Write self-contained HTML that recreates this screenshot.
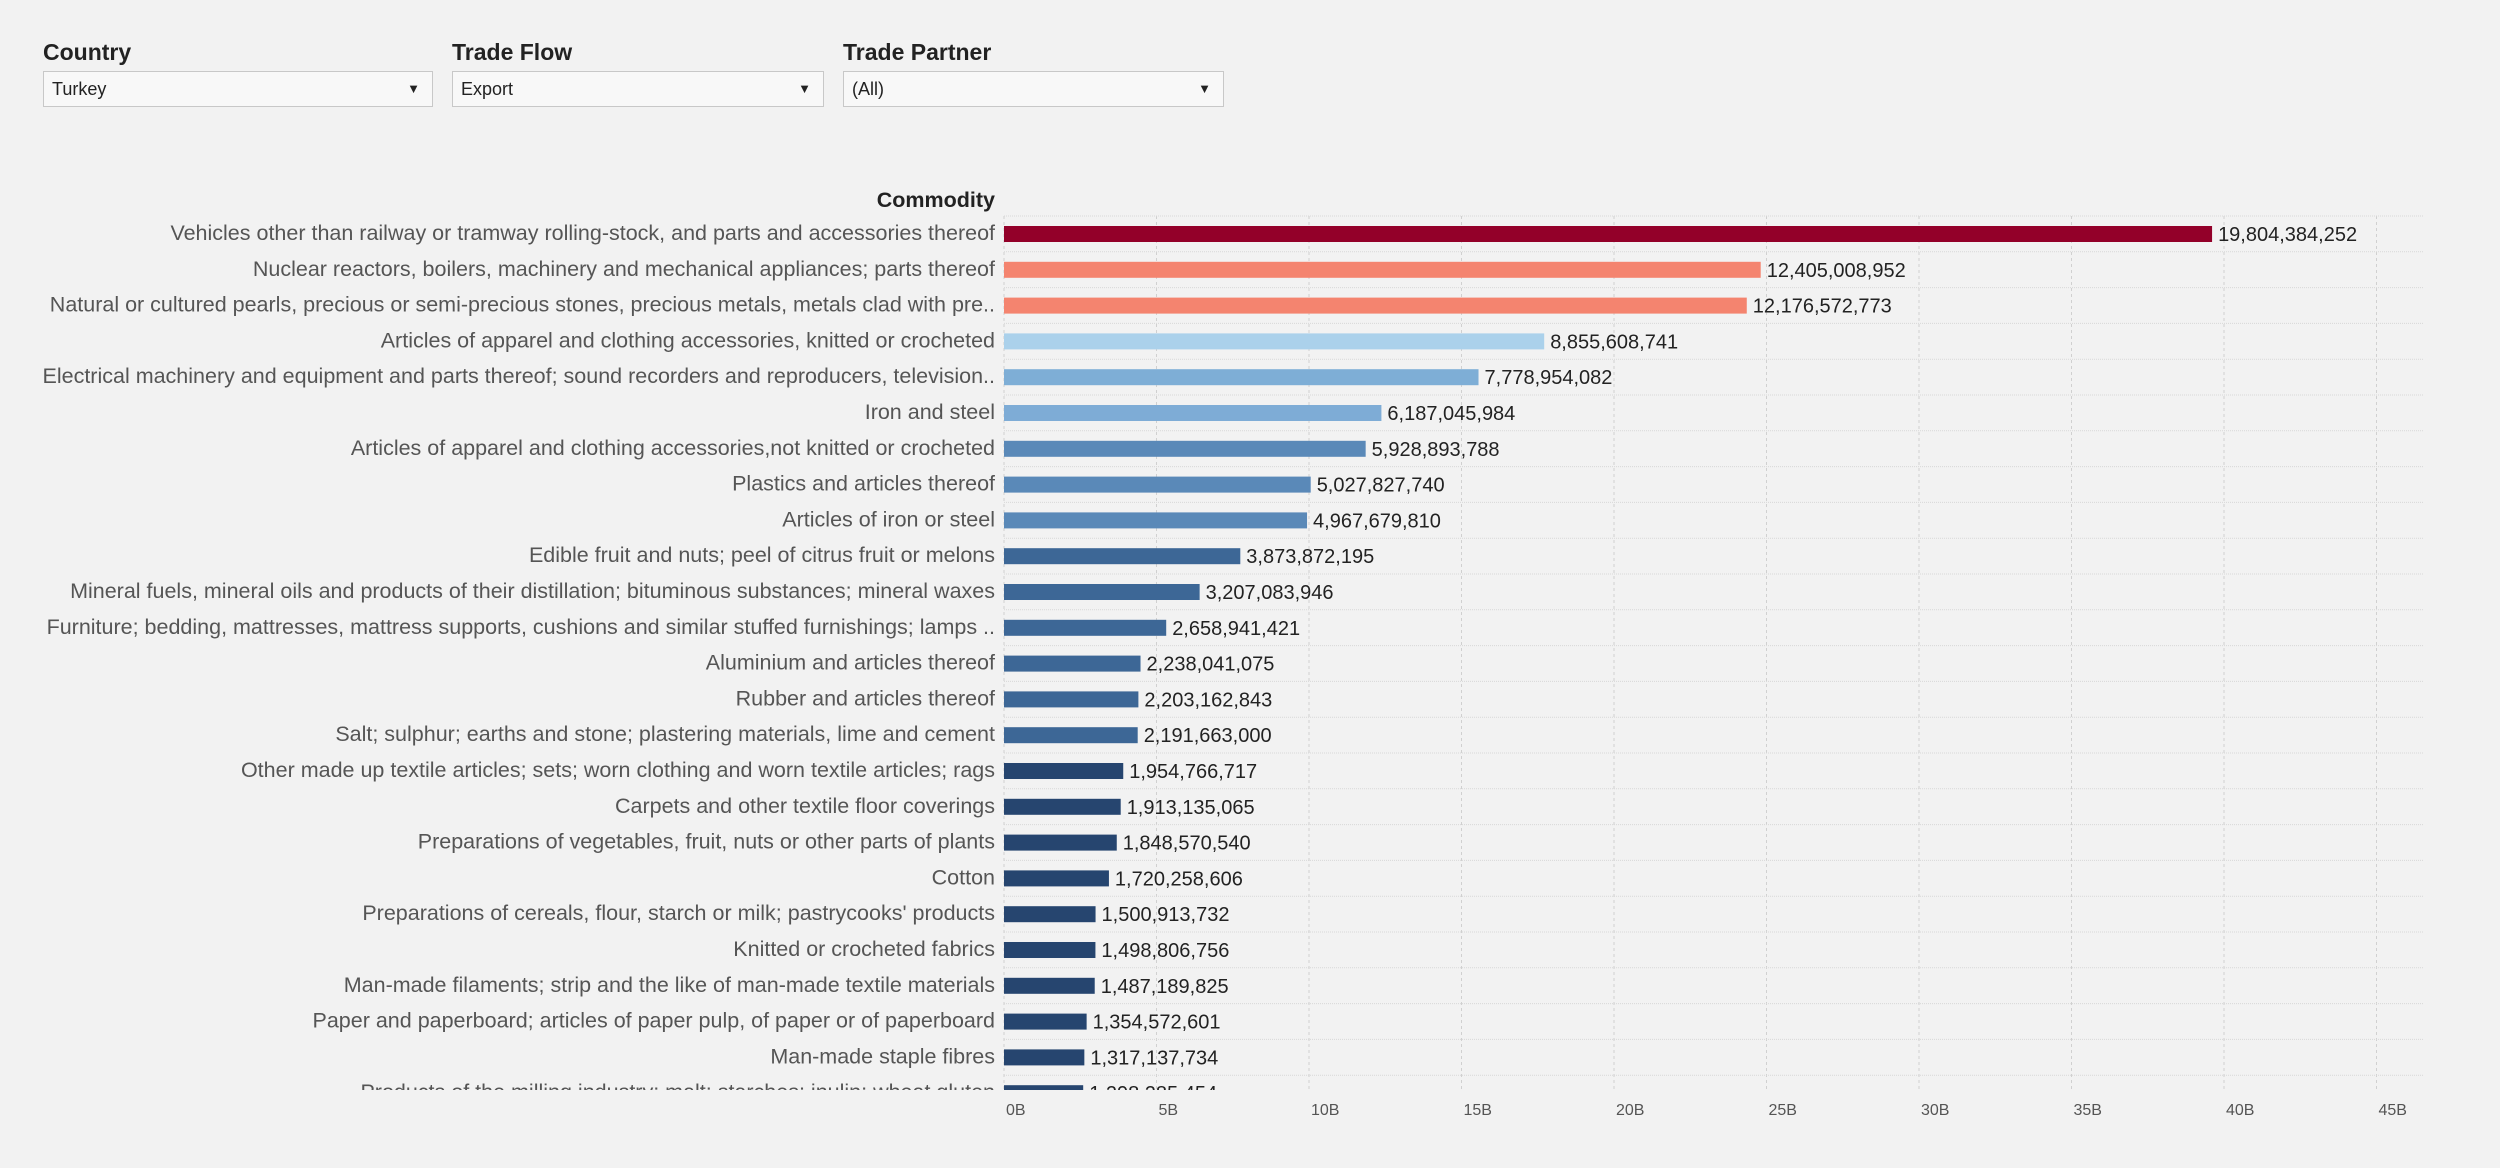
<!DOCTYPE html>
<html><head><meta charset="utf-8"><style>
body{margin:0;width:2500px;height:1168px;background:#f2f2f2;font-family:"Liberation Sans",sans-serif;overflow:hidden;position:relative}
.flt{position:absolute;top:39px}
.flt h3{margin:0;font-size:23px;font-weight:bold;color:#222;height:30px}
.dd{margin-top:2px;height:36px;border:1px solid #c8c8c8;background:#f8f8f8;box-sizing:border-box;font-size:18px;line-height:34px;padding-left:8px;color:#222;position:relative}
.dd span{position:absolute;right:12px;top:0;font-size:13px}
</style></head><body>
<div class="flt" style="left:43px"><h3>Country</h3><div class="dd" style="width:390px">Turkey<span>▼</span></div></div>
<div class="flt" style="left:452px"><h3>Trade Flow</h3><div class="dd" style="width:372px">Export<span>▼</span></div></div>
<div class="flt" style="left:843px"><h3>Trade Partner</h3><div class="dd" style="width:381px">(All)<span>▼</span></div></div>
<svg id="chart" width="2500" height="1168" style="position:absolute;left:0;top:0"></svg>
<script>
const categories=["Vehicles other than railway or tramway rolling-stock, and parts and accessories thereof","Nuclear reactors, boilers, machinery and mechanical appliances; parts thereof","Natural or cultured pearls, precious or semi-precious stones, precious metals, metals clad with pre..","Articles of apparel and clothing accessories, knitted or crocheted","Electrical machinery and equipment and parts thereof; sound recorders and reproducers, television..","Iron and steel","Articles of apparel and clothing accessories,not knitted or crocheted","Plastics and articles thereof","Articles of iron or steel","Edible fruit and nuts; peel of citrus fruit or melons","Mineral fuels, mineral oils and products of their distillation; bituminous substances; mineral waxes","Furniture; bedding, mattresses, mattress supports, cushions and similar stuffed furnishings; lamps ..","Aluminium and articles thereof","Rubber and articles thereof","Salt; sulphur; earths and stone; plastering materials, lime and cement","Other made up textile articles; sets; worn clothing and worn textile articles; rags","Carpets and other textile floor coverings","Preparations of vegetables, fruit, nuts or other parts of plants","Cotton","Preparations of cereals, flour, starch or milk; pastrycooks' products","Knitted or crocheted fabrics","Man-made filaments; strip and the like of man-made textile materials","Paper and paperboard; articles of paper pulp, of paper or of paperboard","Man-made staple fibres","Products of the milling industry; malt; starches; inulin; wheat gluten"];
const values=[19804384252,12405008952,12176572773,8855608741,7778954082,6187045984,5928893788,5027827740,4967679810,3873872195,3207083946,2658941421,2238041075,2203162843,2191663000,1954766717,1913135065,1848570540,1720258606,1500913732,1498806756,1487189825,1354572601,1317137734,1298285454];
const colors=["#930029","#f4846f","#f4846f","#abd1eb","#7eaed6","#7eacd6","#5a89b8","#5a89b8","#5a89b8","#3d6796","#3d6796","#3d6796","#3d6796","#3d6796","#3d6796","#26456f","#26456f","#26456f","#26456f","#26456f","#26456f","#26456f","#26456f","#26456f","#26456f"];
const ticks=[0,5,10,15,20,25,30,35,40,45];
const NS="http://www.w3.org/2000/svg",svg=document.getElementById("chart");
const X0=1004,PXB=30.5,Y0=216,RH=35.8,CLIP=1090,RIGHT=2423;
const x=v=>X0+v*2/1e9*PXB;
const y=i=>Y0+i*RH;
function mk(t,a){const e=document.createElementNS(NS,t);for(const k in a)e.setAttribute(k,a[k]);svg.appendChild(e);return e;}
const defs=mk("defs",{});const cp=document.createElementNS(NS,"clipPath");cp.setAttribute("id","c");const r=document.createElementNS(NS,"rect");r.setAttribute("x",0);r.setAttribute("y",Y0-2);r.setAttribute("width",2500);r.setAttribute("height",CLIP-Y0+2);cp.appendChild(r);defs.appendChild(cp);
const g=mk("g",{"clip-path":"url(#c)"});
function add(p,t,a){const e=document.createElementNS(NS,t);for(const k in a)e.setAttribute(k,a[k]);p.appendChild(e);return e;}
ticks.forEach(t=>{const xx=X0+t*PXB;
const l=add(g,"line",{x1:xx,x2:xx,y1:Y0,y2:CLIP,stroke:"#d0d0d0","stroke-dasharray":"3,3"});


const tx=mk("text",{x:xx+2,y:1115,"font-size":16,fill:"#555"});tx.textContent=t+"B";

});
const hd=mk("text",{x:995,y:207,"font-size":21.5,"font-weight":"bold","text-anchor":"end",fill:"#222"});hd.textContent="Commodity";


categories.forEach((c,i)=>{
const top=y(i);
const s=add(g,"line",{x1:X0,x2:RIGHT,y1:top,y2:top,stroke:"#d8d8d8","stroke-dasharray":"1,1"});


const b=add(g,"rect",{x:X0,y:top+10,width:x(values[i])-X0,height:16,fill:colors[i]});


const v=add(g,"text",{x:x(values[i])+6,y:top+25,"font-size":20,fill:"#222"});v.textContent=values[i].toLocaleString("en-US");


const lb=add(g,"text",{x:995,y:top+24,"font-size":21.5,"text-anchor":"end",fill:"#555"});lb.textContent=c;


});
</script>
</body></html>
